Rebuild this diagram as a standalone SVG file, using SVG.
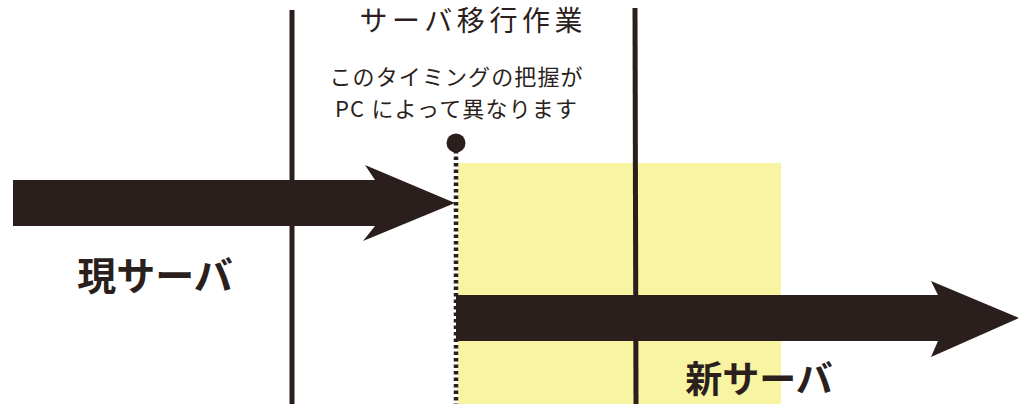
<svg xmlns="http://www.w3.org/2000/svg" width="1019" height="404" viewBox="0 0 1019 404">
<style>
.ink{fill:#2b1f1d}
.vline{stroke:#2b1f1d;stroke-width:5;fill:none}
.dots{stroke:#2b1f1d;stroke-width:4.5;stroke-dasharray:3.5 3;fill:none}
.t{font-family:"Noto Sans CJK JP","Noto Sans",sans-serif;fill:#2b1f1d;text-anchor:middle}
.thin{font-weight:400}
.bold{font-weight:700}
</style>
<rect width="1019" height="404" fill="#ffffff"/>
<g id="migration-period">
<rect x="458" y="163" width="323" height="241" fill="#f8f4a2"/>
</g>
<g id="connectors">
<line class="vline" x1="292" y1="10" x2="292" y2="404"/>
<line class="vline" x1="635" y1="8" x2="636" y2="404"/>
<line class="dots" x1="456" y1="150" x2="456" y2="404"/>
</g>
<g id="current-server">
<polygon class="ink" points="13,180 375,180 365,165 455,203 363,241 375,226 13,226"/>
<text class="t bold" x="155" y="290" font-size="39">現サーバ</text>
</g>
<g id="new-server">
<polygon class="ink" points="456,295 938,295 931,281 1019,318 931,357 938,341 456,341"/>
<text class="t bold" x="759" y="393" font-size="37">新サーバ</text>
</g>
<g id="timing-point">
<circle class="ink" cx="456" cy="143" r="9.5"/>
<text class="t thin" x="456" y="85" font-size="22" textLength="253" lengthAdjust="spacing">このタイミングの把握が</text>
<text class="t thin" x="456" y="117" font-size="22" textLength="242" lengthAdjust="spacing">PC によって異なります</text>
</g>
<g id="title">
<text class="t thin" x="471" y="31" font-size="28" textLength="223" lengthAdjust="spacing">サーバ移行作業</text>
</g>
</svg>
